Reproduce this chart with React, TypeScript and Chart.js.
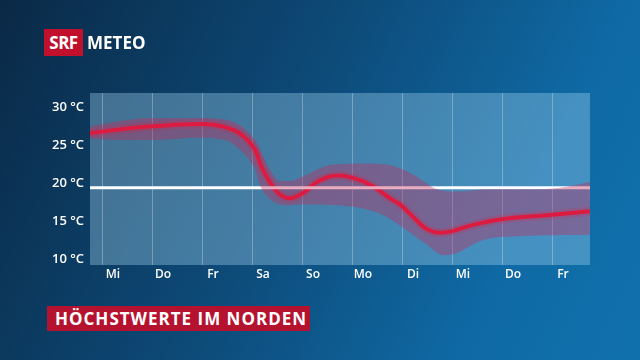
import React, { useEffect, useRef } from "react";
import { Chart, registerables } from "chart.js";

Chart.register(...registerables);

// ---- data ----
const DAY_LABELS = ["Mi", "Do", "Fr", "Sa", "So", "Mo", "Di", "Mi", "Do", "Fr"];
const Y_TICKS = [10, 15, 20, 25, 30];
const REF_TEMP = 19.4;

const MEAN_X = [0, 0.6, 1.25, 2.2, 2.7, 3.03, 3.3, 3.43, 3.6, 3.8, 4.0, 4.26, 4.55, 4.95, 5.26, 5.66, 6.0, 6.2, 6.5, 6.7, 7.0, 7.2, 7.55, 8.2, 9.2, 10];
const MEAN_Y = [26.6, 27.1, 27.5, 27.8, 27.4, 26.4, 24.4, 22.2, 20.1, 18.5, 18.0, 18.7, 20.2, 21.0, 20.7, 19.6, 18.0, 17.2, 15.3, 14.1, 13.45, 13.6, 14.3, 15.2, 15.8, 16.3];

const UPPER_X = [0, 0.5, 1.2, 2.2, 2.7, 3.03, 3.3, 3.4, 3.6, 3.8, 4.0, 4.3, 4.8, 5.5, 6.0, 6.5, 6.9, 7.3, 8.0, 9.0, 9.5, 10];
const UPPER_Y = [27.5, 28.1, 28.6, 28.6, 28.4, 27.5, 25.7, 24.5, 21.8, 20.3, 20.3, 21.0, 22.4, 22.6, 22.4, 21.0, 19.3, 18.9, 19.2, 19.2, 19.5, 20.2];

const LOWER_X = [0, 0.5, 1.2, 2.2, 2.7, 3.03, 3.3, 3.4, 3.7, 3.9, 4.3, 5.26, 5.86, 6.33, 6.73, 7.06, 7.3, 7.86, 8.54, 10];
const LOWER_Y = [25.9, 25.7, 25.7, 26.0, 25.7, 24.2, 21.8, 19.7, 17.4, 17.1, 17.2, 16.9, 15.8, 13.8, 11.9, 10.5, 10.7, 12.5, 13.0, 13.2];

const X_MIN = 0;
const X_MAX = 10;
const Y_MIN = 9.2;
const Y_MAX = 31.9;
const GRID_OFFSET = 0.254;
const LABEL_OFFSET = 0.46;

const zip = (xs: number[], ys: number[]) => xs.map((x, i) => ({ x, y: ys[i] }));

const bgPlugin = {
  id: "bgPlugin",
  beforeDraw(chart: any) {
    const { ctx, width, height, chartArea } = chart;
    ctx.save();
    const g = ctx.createLinearGradient(0, 0, 640, 300);
    g.addColorStop(0, "#0a2946");
    g.addColorStop(0.45, "#0d4a78");
    g.addColorStop(0.8, "#0f69a4");
    g.addColorStop(1, "#1070ab");
    ctx.fillStyle = g;
    ctx.fillRect(0, 0, width, height);
    ctx.fillStyle = "rgba(165,215,245,0.36)";
    ctx.fillRect(chartArea.left, chartArea.top, chartArea.right - chartArea.left, chartArea.bottom - chartArea.top);
    ctx.restore();
  },
};

export default function App() {
  const ref = useRef<HTMLCanvasElement | null>(null);

  useEffect(() => {
    document.body.style.margin = "0";
    const canvas = ref.current;
    if (!canvas) return;
    const chart = new Chart(canvas, {
      type: "line",
      data: {
        datasets: [
          {
            data: zip(UPPER_X, UPPER_Y),
            borderWidth: 0,
            pointRadius: 0,
            fill: "+1",
            backgroundColor: "rgba(200,40,90,0.38)",
            borderColor: "rgba(0,0,0,0)",
            cubicInterpolationMode: "monotone",
          },
          {
            data: zip(LOWER_X, LOWER_Y),
            borderWidth: 0,
            pointRadius: 0,
            fill: false,
            borderColor: "rgba(0,0,0,0)",
            cubicInterpolationMode: "monotone",
          },
          {
            data: [
              { x: X_MIN, y: REF_TEMP },
              { x: X_MAX, y: REF_TEMP },
            ],
            borderColor: "#ffffff",
            borderWidth: 3,
            pointRadius: 0,
            fill: false,
          },
          {
            data: zip(MEAN_X, MEAN_Y),
            borderColor: "rgba(235,25,55,0.2)",
            borderWidth: 9,
            pointRadius: 0,
            fill: false,
            cubicInterpolationMode: "monotone",
          },
          {
            data: zip(MEAN_X, MEAN_Y),
            borderColor: "#ec1230",
            borderWidth: 4,
            pointRadius: 0,
            fill: false,
            cubicInterpolationMode: "monotone",
          },
        ],
      },
      options: {
        animation: false,
        responsive: false,
        devicePixelRatio: 1,
        layout: { padding: { top: 93, right: 50, left: 0, bottom: 0 } },
        plugins: { legend: { display: false }, tooltip: { enabled: false } },
        scales: {
          x: {
            type: "linear",
            position: "bottom",
            min: X_MIN,
            max: X_MAX,
            border: { display: false },
            grid: { color: "rgba(255,255,255,0.28)", lineWidth: 1, drawTicks: false },
            ticks: { display: false },
            afterBuildTicks: (scale: any) => {
              scale.ticks = DAY_LABELS.map((_, i) => ({ value: i + GRID_OFFSET }));
            },
            afterFit: (scale: any) => {
              scale.height = 0;
            },
          },
          xl: {
            type: "linear",
            position: "bottom",
            min: X_MIN,
            max: X_MAX,
            border: { display: false },
            grid: { display: false, drawTicks: false },
            ticks: {
              color: "#ffffff",
              padding: 2,
              maxRotation: 0,
              autoSkip: false,
              font: { family: "'Open Sans'", size: 12, weight: "600" },
              callback: (_v: any, i: number) => DAY_LABELS[i],
            },
            afterBuildTicks: (scale: any) => {
              scale.ticks = DAY_LABELS.map((_, i) => ({ value: i + LABEL_OFFSET }));
            },
            afterFit: (scale: any) => {
              scale.height = 95;
            },
          },
          y: {
            type: "linear",
            min: Y_MIN,
            max: Y_MAX,
            border: { display: false },
            grid: { display: false, drawTicks: false },
            ticks: {
              color: "#ffffff",
              padding: 6,
              font: { family: "'Open Sans'", size: 13, weight: "600" },
              callback: (v: any) => `${v} °C`,
            },
            afterBuildTicks: (scale: any) => {
              scale.ticks = Y_TICKS.map((v) => ({ value: v }));
            },
            afterFit: (scale: any) => {
              scale.width = 90;
            },
          },
        },
      },
      plugins: [bgPlugin],
    } as any);
    return () => chart.destroy();
  }, []);

  return (
    <div
      style={{
        position: "fixed",
        left: 0,
        top: 0,
        width: 640,
        height: 360,
        overflow: "hidden",
        fontFamily: "'Open Sans', sans-serif",
      }}
    >
      <canvas ref={ref} width={640} height={360} style={{ position: "absolute", left: 0, top: 0 }} />
      <div
        style={{
          position: "absolute",
          left: 44,
          top: 29,
          width: 39,
          height: 27,
          background: "#c0102c",
          color: "#fff",
          fontWeight: 700,
          fontSize: 17,
          lineHeight: "27px",
          textAlign: "center",
          letterSpacing: -0.5,
        }}
      >
        SRF
      </div>
      <div
        style={{
          position: "absolute",
          left: 87,
          top: 29,
          height: 27,
          color: "#fff",
          fontWeight: 700,
          fontSize: 17,
          lineHeight: "27px",
        }}
      >
        METEO
      </div>
      <div
        style={{
          position: "absolute",
          left: 47,
          top: 306,
          width: 263,
          height: 25,
          background: "#b51230",
          color: "#fff",
          fontWeight: 700,
          fontSize: 17,
          lineHeight: "25px",
          paddingLeft: 8,
          boxSizing: "border-box",
          letterSpacing: 1,
          whiteSpace: "nowrap",
        }}
      >
        HÖCHSTWERTE IM NORDEN
      </div>
    </div>
  );
}
